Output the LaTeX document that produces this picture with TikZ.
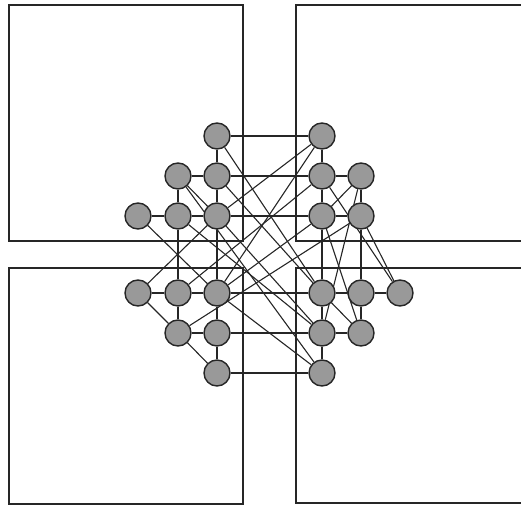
\documentclass[tikz,border=0pt]{standalone}
\usetikzlibrary{backgrounds}
\begin{document}
\begin{tikzpicture}[x=1pt,y=-1pt,
  box/.style={draw=black!85,line width=1.6pt},
  nd/.style={circle,draw=black!85,fill=black!40,line width=1.4pt,minimum size=26pt,inner sep=0pt},
  ed/.style={draw=black!85,line width=1.1pt}]
\useasboundingbox (0,0) rectangle (521,505);
\begin{scope}
\clip (0,0) rectangle (521,505);
\draw[box] (9,5) rectangle (243,241);
\draw[box] (296,5) rectangle (521.8,241);
\draw[box] (9,268) rectangle (243,504);
\draw[box] (296,268) rectangle (521.8,503);
\end{scope}
% top-left
\node[nd] (a) at (217,136) {};
\node[nd] (b) at (178,176) {};
\node[nd] (c) at (217,176) {};
\node[nd] (d) at (138,216) {};
\node[nd] (e) at (178,216) {};
\node[nd] (f) at (217,216) {};
% top-right
\node[nd] (g) at (322,136) {};
\node[nd] (h) at (322,176) {};
\node[nd] (i) at (361,176) {};
\node[nd] (j) at (322,216) {};
\node[nd] (k) at (361,216) {};
% bottom-left
\node[nd] (l) at (138,293) {};
\node[nd] (m) at (178,293) {};
\node[nd] (n) at (217,293) {};
\node[nd] (o) at (178,333) {};
\node[nd] (p) at (217,333) {};
\node[nd] (q) at (217,373) {};
% bottom-right
\node[nd] (r) at (322,293) {};
\node[nd] (s) at (361,293) {};
\node[nd] (t) at (400,293) {};
\node[nd] (u) at (322,333) {};
\node[nd] (v) at (361,333) {};
\node[nd] (w) at (322,373) {};
\begin{pgfonlayer}{background}
\foreach \x/\y in {a/c,b/c,b/e,c/f,d/e,e/f,b/f,
  g/h,h/i,h/j,i/k,j/k,i/j,
  l/m,m/n,m/o,n/p,o/p,p/q,l/o,o/q,
  r/s,s/t,r/u,s/v,u/v,u/w,r/v,
  a/g,c/h,f/j,n/r,p/u,q/w,
  e/m,f/n,j/r,k/s,
  d/n,l/f,g/f,g/n,a/r,c/r,m/h,n/j,o/k,e/u,b/w,u/i,j/v,k/t,h/t,f/u,n/w}
  \draw[ed] (\x) -- (\y);
\end{pgfonlayer}
\end{tikzpicture}
\end{document}
